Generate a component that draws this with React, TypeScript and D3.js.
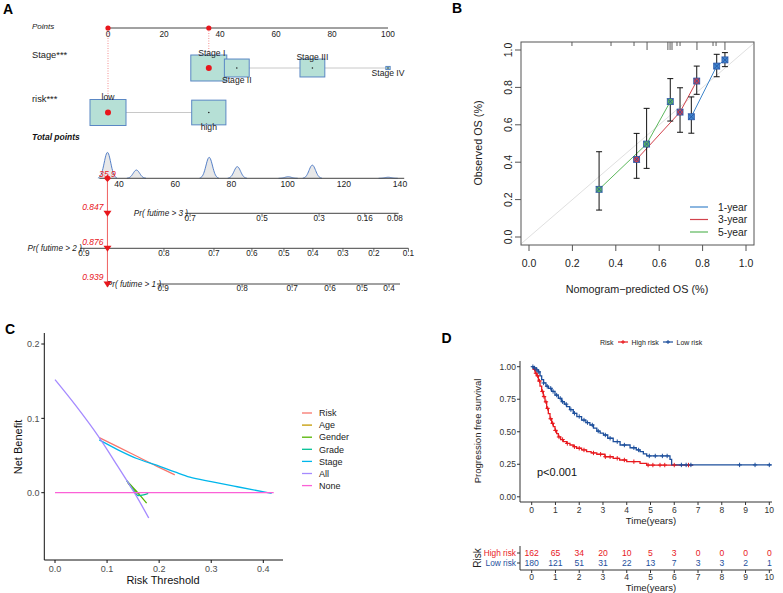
import React from 'react';
import * as d3 from 'd3';

const FONT = "'Liberation Sans', Arial, Helvetica, sans-serif";

// ---------- Panel A (nomogram) ----------
const pointsTicks = [0, 20, 40, 60, 80, 100];
const stageLevels = ['Stage I', 'Stage II', 'Stage III', 'Stage IV'];
const stagePoints = [36, 46, 73, 100];
const stageFreq = [1.0, 0.69, 0.69, 0.12];
const riskLevels = ['low', 'high'];
const riskPoints = [0, 36];
const riskFreq = [1.0, 0.95];
const totalTicks = [40, 60, 80, 100, 120, 140];
const humpCenters = [35.9, 46.2, 72.1, 82.1, 100.2, 108.8, 135.8];
const humpHeights = [1.0, 0.32, 0.81, 0.45, 0.06, 0.51, 0.04];
const patientTotal = 35.9;
const pr3Labels = ['0.7', '0.5', '0.3', '0.16', '0.08'];
const pr3Points = [65.3, 90.9, 111.2, 127.5, 138.2];
const pr2Labels = ['0.9', '0.8', '0.7', '0.6', '0.5', '0.4', '0.3', '0.2', '0.1'];
const pr2Points = [27.5, 56.0, 73.8, 87.3, 98.7, 109.0, 119.7, 130.7, 143.0];
const pr1Labels = ['0.9', '0.8', '0.7', '0.6', '0.5', '0.4'];
const pr1Points = [55.7, 83.8, 101.6, 115.1, 126.5, 136.1];
const prValues = ['0.847', '0.876', '0.939'];

// ---------- Panel B (calibration) ----------
const calibTicks = [0, 0.2, 0.4, 0.6, 0.8, 1.0];
const cal1X = [0.748, 0.865, 0.903];
const cal1Y = [0.643, 0.914, 0.947];
const cal1Lo = [0.555, 0.857, 0.911];
const cal1Hi = [0.749, 0.977, 0.986];
const cal3X = [0.496, 0.696, 0.773];
const cal3Y = [0.415, 0.668, 0.834];
const cal3Lo = [0.314, 0.56, 0.763];
const cal3Hi = [0.554, 0.798, 0.914];
const cal5X = [0.323, 0.542, 0.651];
const cal5Y = [0.255, 0.497, 0.724];
const cal5Lo = [0.144, 0.367, 0.62];
const cal5Hi = [0.456, 0.688, 0.847];
const calibNames = ['1-year', '3-year', '5-year'];
const calibColors = ['#3f86cc', '#d2424c', '#5cb85c'];
const rugX = [0.198, 0.378, 0.484, 0.544, 0.64, 0.65, 0.659, 0.682, 0.696, 0.774, 0.848, 0.862, 0.903];
const rugW = [1, 1, 1, 2, 2, 2, 2, 1, 1, 2, 1, 1, 2];

// ---------- Panel C (decision curve) ----------
const dcaNames = ['Risk', 'Age', 'Gender', 'Grade', 'Stage', 'All', 'None'];
const dcaColors = ['#F8766D', '#C49A00', '#53B400', '#00C094', '#00B6EB', '#A58AFF', '#FB61D7'];
const dcaRisk: [number, number][] = [[0.085, 0.074], [0.12, 0.062], [0.16, 0.048], [0.2, 0.034], [0.23, 0.024]];
const dcaAge: [number, number][] = [[0.14, 0.013], [0.155, 0.002], [0.162, -0.002]];
const dcaGender: [number, number][] = [[0.138, 0.016], [0.155, 0.003], [0.165, -0.005], [0.176, -0.014]];
const dcaGrade: [number, number][] = [[0.138, 0.016], [0.15, 0.004], [0.16, -0.004], [0.17, -0.003], [0.179, -0.001]];
const dcaStage: [number, number][] = [[0.085, 0.071], [0.12, 0.058], [0.157, 0.046], [0.195, 0.037], [0.23, 0.028], [0.259, 0.021], [0.3, 0.015], [0.35, 0.008], [0.416, -0.001]];
const dcaAll: [number, number][] = [[0, 0.152], [0.04, 0.117], [0.085, 0.074], [0.12, 0.036], [0.155, -0.003], [0.18, -0.034]];
const dcaNone: [number, number][] = [[0, 0], [0.42, 0]];
const dcaXTicks = [0, 0.1, 0.2, 0.3, 0.4];
const dcaYTicks = [0, 0.1, 0.2];

// ---------- Panel D (Kaplan-Meier) ----------
const highT = [0, 0.08, 0.15, 0.21, 0.28, 0.35, 0.42, 0.49, 0.56, 0.63, 0.7, 0.77, 0.84, 0.91, 0.98, 1.05, 1.12, 1.22, 1.33, 1.47, 1.61, 1.75, 1.89, 2.1, 2.31, 2.5, 2.74, 3.08, 3.43, 3.7, 4.0, 4.56, 4.84, 6.8];
const highS = [1, 0.98, 0.95, 0.93, 0.89, 0.85, 0.81, 0.77, 0.73, 0.68, 0.64, 0.6, 0.565, 0.54, 0.51, 0.485, 0.46, 0.44, 0.424, 0.41, 0.398, 0.385, 0.373, 0.36, 0.347, 0.337, 0.327, 0.308, 0.296, 0.283, 0.27, 0.257, 0.244, 0.244];
const lowT = [0, 0.1, 0.2, 0.28, 0.35, 0.42, 0.5, 0.6, 0.7, 0.84, 0.98, 1.12, 1.26, 1.37, 1.47, 1.6, 1.75, 1.9, 2.1, 2.28, 2.45, 2.6, 2.74, 2.88, 3.02, 3.2, 3.43, 3.72, 4.14, 4.4, 4.56, 4.7, 4.84, 5.82, 5.89, 10.1];
const lowS = [1, 0.99, 0.975, 0.96, 0.93, 0.9, 0.875, 0.85, 0.834, 0.81, 0.782, 0.757, 0.731, 0.712, 0.693, 0.67, 0.642, 0.617, 0.59, 0.57, 0.552, 0.528, 0.505, 0.49, 0.475, 0.45, 0.424, 0.398, 0.377, 0.36, 0.347, 0.33, 0.314, 0.288, 0.245, 0.245];
const highCensor = [0.12, 0.18, 0.25, 0.33, 0.45, 0.52, 0.6, 0.67, 0.8, 0.88, 1.0, 1.15, 1.3, 1.5, 1.8, 2.0, 2.2, 2.6, 2.9, 3.1, 3.3, 3.6, 3.9, 4.3, 4.9, 5.1, 5.4, 5.6, 6.0, 6.6];
const lowCensor = [0.05, 0.12, 0.22, 0.3, 0.5, 0.65, 0.8, 0.9, 1.05, 1.2, 1.3, 1.45, 1.65, 1.8, 2.0, 2.2, 2.35, 2.55, 2.8, 3.1, 3.3, 3.6, 3.9, 4.3, 4.5, 4.95, 5.2, 5.5, 5.7, 6.3, 6.5, 6.7, 8.75, 9.4, 10.0];
const timeTicks = [0, 1, 2, 3, 4, 5, 6, 7, 8, 9, 10];
const survTicks = [0, 0.25, 0.5, 0.75, 1.0];
const atRiskHigh = [162, 65, 34, 20, 10, 5, 3, 0, 0, 0, 0];
const atRiskLow = [180, 121, 51, 31, 22, 13, 7, 3, 3, 2, 1];
const kmRed = '#E8191E';
const kmBlue = '#1D4F9C';

function stepAt(ts: number[], ss: number[], t: number) {
  let s = ss[0];
  for (let i = 0; i < ts.length; i++) if (ts[i] <= t) s = ss[i];
  return s;
}

export default function App() {
  // ----- Panel A -----
  const ptsX = d3.scaleLinear().domain([0, 100]).range([108, 388]);
  const tpX = d3.scaleLinear().domain([40, 140]).range([119, 400]);
  const boxFill = '#b6e0d6';
  const boxStroke = '#5a87c4';
  const stageY = 68;
  const riskY = 112.5;
  const totalY = 178.3;
  const humpScale = d3.scaleLinear().domain([0, 1]).range([totalY, totalY - 26]);
  const humpPaths = humpCenters.map((c, i) => {
    const pts: [number, number][] = d3.range(c - 3.4, c + 3.41, 0.2).map((t) => [t, humpHeights[i] * Math.exp(-0.5 * ((t - c) / 1.15) ** 2)]);
    const area = d3.area<[number, number]>().x((d) => tpX(d[0])).y0(totalY).y1((d) => humpScale(d[1])).curve(d3.curveBasis)(pts) || '';
    const line = d3.line<[number, number]>().x((d) => tpX(d[0])).y((d) => humpScale(d[1])).curve(d3.curveBasis)(pts) || '';
    return { area, line };
  });
  const prRows = [
    { name: 'Pr( futime > 3 )', labels: pr3Labels, pts: pr3Points, y: 213.3, start: 63.5, end: 139.5 },
    { name: 'Pr( futime > 2 )', labels: pr2Labels, pts: pr2Points, y: 248.3, start: 26.1, end: 143 },
    { name: 'Pr( futime > 1 )', labels: pr1Labels, pts: pr1Points, y: 284, start: 53.5, end: 140 },
  ];
  const px = tpX(patientTotal);

  const box = (cx: number, cy: number, f: number, key: string) => {
    const w = 36 * f, h = 26 * f;
    return <rect key={key} x={cx - w / 2} y={cy - h / 2} width={w} height={h} fill={boxFill} stroke={boxStroke} strokeWidth={1} />;
  };

  // ----- Panel B -----
  const bx = d3.scaleLinear().domain([0, 1]).range([529, 746]);
  const by = d3.scaleLinear().domain([0, 1]).range([237, 50]);
  const calSeries = [
    { x: cal1X, y: cal1Y, lo: cal1Lo, hi: cal1Hi },
    { x: cal3X, y: cal3Y, lo: cal3Lo, hi: cal3Hi },
    { x: cal5X, y: cal5Y, lo: cal5Lo, hi: cal5Hi },
  ];

  // ----- Panel C -----
  const cx = d3.scaleLinear().domain([0, 0.4]).range([55, 263.3]);
  const cy = d3.scaleLinear().domain([0, 0.2]).range([492.7, 344]);
  const dcaData = [dcaRisk, dcaAge, dcaGender, dcaGrade, dcaStage, dcaAll, dcaNone];
  const cLine = d3.line<[number, number]>().x((d) => cx(d[0])).y((d) => cy(d[1])).curve(d3.curveMonotoneX);

  // ----- Panel D -----
  const dx = d3.scaleLinear().domain([0, 10]).range([531.7, 769.3]);
  const dy = d3.scaleLinear().domain([0, 1]).range([496.8, 366.7]);
  const highPath = d3.line<number>().x((_, i) => dx(highT[i])).y((_, i) => dy(highS[i])).curve(d3.curveStepAfter)(highT) || '';
  const lowPath = d3.line<number>().x((_, i) => dx(lowT[i])).y((_, i) => dy(lowS[i])).curve(d3.curveStepAfter)(lowT) || '';

  const cross = (x: number, y: number, color: string, key: string, r = 2.6) => (
    <g key={key} stroke={color} strokeWidth={1}>
      <line x1={x - r} x2={x + r} y1={y} y2={y} />
      <line x1={x} x2={x} y1={y - r} y2={y + r} />
    </g>
  );

  return (
    <svg width={783} height={593} style={{ position: 'absolute', left: 0, top: 0, background: '#fff' }} fontFamily={FONT}>
      <rect width={783} height={593} fill="#fff" />
      {/* Panel letters */}
      <g fontWeight="bold" fontSize={14} fill="#000">
        <text x={3} y={14}>A</text>
        <text x={452} y={13}>B</text>
        <text x={5} y={333.5}>C</text>
        <text x={441.5} y={343}>D</text>
      </g>

      {/* ================= Panel A ================= */}
      <g>
        <text x={32} y={29} fontSize={8} fontStyle="italic" fill="#222">Points</text>
        <line x1={ptsX(0)} x2={ptsX(100)} y1={28} y2={28} stroke="#444" strokeWidth={1} />
        {pointsTicks.map((t) => (
          <text key={t} x={ptsX(t)} y={36.5} fontSize={8.3} textAnchor="middle" fill="#222">{t}</text>
        ))}
        <text x={32} y={57.5} fontSize={9.3} fill="#222">Stage***</text>
        <text x={32} y={101.5} fontSize={9.3} fill="#222">risk***</text>
        <text x={32} y={140} fontSize={8.5} fontStyle="italic" fontWeight="bold" fill="#111">Total points</text>

        {/* red dotted guides */}
        <line x1={ptsX(riskPoints[0])} x2={ptsX(riskPoints[0])} y1={28} y2={riskY} stroke="#f07070" strokeWidth={0.8} strokeDasharray="1,1.5" />
        <line x1={ptsX(stagePoints[0])} x2={ptsX(stagePoints[0])} y1={28} y2={stageY} stroke="#f07070" strokeWidth={0.8} strokeDasharray="1,1.5" />

        {/* stage row */}
        <line x1={ptsX(stagePoints[0])} x2={ptsX(stagePoints[3])} y1={stageY} y2={stageY} stroke="#c8c8c8" strokeWidth={1} />
        {stagePoints.map((p, i) => box(ptsX(p), stageY, stageFreq[i], 's' + i))}
        {stagePoints.map((p, i) => {
          const h = 26 * stageFreq[i];
          const y = i % 2 === 0 ? stageY - h / 2 + 0.5 : stageY + h / 2 + 6.3;
          return <text key={'sl' + i} x={ptsX(p) + (i === 0 ? 3 : 0)} y={y} fontSize={8.6} textAnchor="middle" fill="#222">{stageLevels[i]}</text>;
        })}
        {stagePoints.map((p, i) => (i === 0 ? null : <circle key={'sd' + i} cx={ptsX(p)} cy={stageY} r={0.8} fill="#222" />))}

        {/* risk row */}
        <line x1={ptsX(riskPoints[0])} x2={ptsX(riskPoints[1])} y1={riskY} y2={riskY} stroke="#c8c8c8" strokeWidth={1} />
        {riskPoints.map((p, i) => box(ptsX(p), riskY, riskFreq[i], 'r' + i))}
        {riskPoints.map((p, i) => {
          const h = 26 * riskFreq[i];
          const y = i % 2 === 0 ? riskY - h / 2 + 0.8 : riskY + h / 2 + 5.5;
          return <text key={'rl' + i} x={ptsX(p)} y={y} fontSize={8.6} textAnchor="middle" fill="#222">{riskLevels[i]}</text>;
        })}
        <circle cx={ptsX(riskPoints[1])} cy={riskY} r={0.8} fill="#222" />

        {/* selected points */}
        <circle cx={ptsX(riskPoints[0])} cy={28} r={2.6} fill="#e8161c" />
        <circle cx={ptsX(stagePoints[0])} cy={28} r={2.6} fill="#e8161c" />
        <circle cx={ptsX(stagePoints[0])} cy={stageY} r={3} fill="#e8161c" />
        <circle cx={ptsX(riskPoints[0])} cy={riskY} r={3} fill="#e8161c" />

        {/* total points density */}
        {humpPaths.map((h, i) => (
          <g key={'h' + i}>
            <path d={h.area} fill="#e8e8e8" />
            <path d={h.line} fill="none" stroke="#5580c8" strokeWidth={1} />
          </g>
        ))}
        <line x1={tpX(33)} x2={tpX(141.5)} y1={totalY} y2={totalY} stroke="#444" strokeWidth={1} />
        {totalTicks.map((t) => (
          <text key={t} x={tpX(t)} y={186.5} fontSize={8.6} textAnchor="middle" fill="#222">{t}</text>
        ))}

        {/* probability axes */}
        {prRows.map((r, k) => (
          <g key={'pr' + k}>
            <line x1={tpX(r.start)} x2={tpX(r.end)} y1={r.y} y2={r.y} stroke="#444" strokeWidth={1} />
            <text x={tpX(r.pts[0]) - 2} y={r.y + 3} fontSize={8.2} fontStyle="italic" textAnchor="end" fill="#222">{r.name}</text>
            {r.pts.map((p, i) => (
              <g key={i}>
                <line x1={tpX(p)} x2={tpX(p)} y1={r.y} y2={r.y + 3.5} stroke="#444" strokeWidth={0.8} />
                <text x={tpX(p)} y={r.y + 7.2} fontSize={8.2} textAnchor="middle" fill="#222">{r.labels[i]}</text>
              </g>
            ))}
          </g>
        ))}

        {/* red patient path */}
        <line x1={px} x2={px} y1={totalY} y2={283} stroke="#f06a6a" strokeWidth={1.1} />
        <path d={`M${px},${totalY - 3.6}L${px + 3.6},${totalY}L${px},${totalY + 3.6}L${px - 3.6},${totalY}Z`} fill="#e8161c" />
        <text x={px} y={177} fontSize={8.6} fontStyle="italic" textAnchor="middle" fill="#e8161c">{patientTotal}</text>
        {prRows.map((r, k) => (
          <g key={'tri' + k}>
            <path d={`M${px - 4},${r.y - 2.5}L${px + 4},${r.y - 2.5}L${px},${r.y + 3.5}Z`} fill="#e8161c" />
            <text x={103.5} y={r.y - 3.8} fontSize={8.5} fontStyle="italic" textAnchor="end" fill="#e8161c">{prValues[k]}</text>
          </g>
        ))}
      </g>

      {/* ================= Panel B ================= */}
      <g>
        <defs>
          <clipPath id="clipB"><rect x={521} y={42} width={233} height={203} /></clipPath>
        </defs>
        <line x1={bx(-0.05)} y1={by(-0.05)} x2={bx(1.05)} y2={by(1.05)} stroke="#e0e0e0" strokeWidth={1} clipPath="url(#clipB)" />
        {rugX.map((r, i) => (
          <line key={'rug' + i} x1={bx(r)} x2={bx(r)} y1={42} y2={42 + 4 * rugW[i]} stroke="#333" strokeWidth={0.8} />
        ))}
        {calSeries.map((s, k) => (
          <path key={'cl' + k} d={d3.line<number>().x((_, i) => bx(s.x[i])).y((_, i) => by(s.y[i]))(s.x) || ''} fill="none" stroke={calibColors[k]} strokeWidth={1} />
        ))}
        {calSeries.map((s, k) => (
          <g key={'ce' + k} stroke="#111" strokeWidth={1}>
            {s.x.map((x, i) => (
              <g key={i}>
                <line x1={bx(x)} x2={bx(x)} y1={by(s.lo[i])} y2={by(s.hi[i])} />
                <line x1={bx(x) - 3} x2={bx(x) + 3} y1={by(s.lo[i])} y2={by(s.lo[i])} />
                <line x1={bx(x) - 3} x2={bx(x) + 3} y1={by(s.hi[i])} y2={by(s.hi[i])} />
              </g>
            ))}
          </g>
        ))}
        {calSeries.map((s, k) => (
          <g key={'cm' + k}>
            {s.x.map((x, i) => (
              <g key={i}>
                <rect x={bx(x) - 3} y={by(s.y[i]) - 3} width={6} height={6} fill={calibColors[k]} stroke="#2a56a8" strokeWidth={0.8} />
                <g stroke="#2a56a8" strokeWidth={0.9}>
                  <line x1={bx(x) - 3} x2={bx(x) + 3} y1={by(s.y[i]) - 3} y2={by(s.y[i]) + 3} />
                  <line x1={bx(x) - 3} x2={bx(x) + 3} y1={by(s.y[i]) + 3} y2={by(s.y[i]) - 3} />
                </g>
              </g>
            ))}
          </g>
        ))}
        <rect x={521} y={42} width={233} height={203} fill="none" stroke="#555" strokeWidth={1} />
        {calibTicks.map((t) => (
          <g key={'bxt' + t}>
            <line x1={bx(t)} x2={bx(t)} y1={245} y2={251} stroke="#555" />
            <text x={bx(t)} y={267} fontSize={10.5} textAnchor="middle" fill="#222">{t.toFixed(1)}</text>
            <line x1={515} x2={521} y1={by(t)} y2={by(t)} stroke="#555" />
            <text transform={`translate(511.5,${by(t)}) rotate(-90)`} fontSize={10.5} textAnchor="middle" fill="#222">{t.toFixed(1)}</text>
          </g>
        ))}
        <text x={637} y={293} fontSize={10.8} textAnchor="middle" fill="#222">Nomogram−predicted OS (%)</text>
        <text transform="translate(482,143) rotate(-90)" fontSize={10.8} textAnchor="middle" fill="#222">Observed OS (%)</text>
        {calibNames.map((n, k) => (
          <g key={'bl' + k}>
            <line x1={690} x2={708} y1={207 + k * 12.5} y2={207 + k * 12.5} stroke={calibColors[k]} strokeWidth={1.2} />
            <text x={718} y={210.7 + k * 12.5} fontSize={10.3} fill="#222">{n}</text>
          </g>
        ))}
      </g>

      {/* ================= Panel C ================= */}
      <g>
        <line x1={44.3} x2={44.3} y1={333} y2={560} stroke="#111" strokeWidth={1} />
        <line x1={44.3} x2={283} y1={560} y2={560} stroke="#111" strokeWidth={1} />
        {dcaXTicks.map((t) => (
          <g key={'cxt' + t}>
            <line x1={cx(t)} x2={cx(t)} y1={560} y2={563} stroke="#111" />
            <text x={cx(t)} y={571.5} fontSize={9} textAnchor="middle" fill="#4d4d4d">{t.toFixed(1)}</text>
          </g>
        ))}
        {dcaYTicks.map((t) => (
          <g key={'cyt' + t}>
            <line x1={41.3} x2={44.3} y1={cy(t)} y2={cy(t)} stroke="#111" />
            <text x={39.5} y={cy(t) + 3.2} fontSize={9} textAnchor="end" fill="#4d4d4d">{t.toFixed(1)}</text>
          </g>
        ))}
        {dcaData.map((d, k) => (
          <path key={'dca' + k} d={cLine(d) || ''} fill="none" stroke={dcaColors[k]} strokeWidth={1.3} />
        ))}
        <text x={163} y={584} fontSize={11} textAnchor="middle" fill="#111">Risk Threshold</text>
        <text transform="translate(22,447) rotate(-90)" fontSize={11} textAnchor="middle" fill="#111">Net Benefit</text>
        {dcaNames.map((n, k) => (
          <g key={'cl' + k}>
            <line x1={302} x2={312} y1={413 + k * 12.1} y2={413 + k * 12.1} stroke={dcaColors[k]} strokeWidth={1.3} />
            <text x={319} y={416.2 + k * 12.1} fontSize={9} fill="#222">{n}</text>
          </g>
        ))}
      </g>

      {/* ================= Panel D ================= */}
      <g>
        {/* legend */}
        <text x={600} y={344.5} fontSize={7} fill="#222">Risk</text>
        <line x1={618} x2={628} y1={342} y2={342} stroke={kmRed} strokeWidth={1.2} />
        {cross(623, 342, kmRed, 'lgr', 2)}
        <text x={631.5} y={344.5} fontSize={7} fill="#222">High risk</text>
        <line x1={663} x2={673} y1={342} y2={342} stroke={kmBlue} strokeWidth={1.2} />
        {cross(668, 342, kmBlue, 'lgb', 2)}
        <text x={676.5} y={344.5} fontSize={7} fill="#222">Low risk</text>

        {/* axes */}
        <line x1={520} x2={520} y1={361} y2={502} stroke="#333" strokeWidth={1} />
        <line x1={520} x2={772} y1={502} y2={502} stroke="#333" strokeWidth={1} />
        {survTicks.map((t) => (
          <g key={'dyt' + t}>
            <line x1={517} x2={520} y1={dy(t)} y2={dy(t)} stroke="#333" />
            <text x={516} y={dy(t) + 3} fontSize={8.5} textAnchor="end" fill="#333">{t.toFixed(2)}</text>
          </g>
        ))}
        {timeTicks.map((t) => (
          <g key={'dxt' + t}>
            <line x1={dx(t)} x2={dx(t)} y1={502} y2={505} stroke="#333" />
            <text x={dx(t)} y={512.5} fontSize={8.5} textAnchor="middle" fill="#333">{t}</text>
          </g>
        ))}
        <text x={651} y={524} fontSize={9.5} textAnchor="middle" fill="#222">Time(years)</text>
        <text transform="translate(481,431) rotate(-90)" fontSize={9.5} textAnchor="middle" fill="#222">Progression free survival</text>

        {/* curves */}
        <path d={highPath} fill="none" stroke={kmRed} strokeWidth={1.3} />
        <path d={lowPath} fill="none" stroke={kmBlue} strokeWidth={1.3} />
        {highCensor.map((t, i) => cross(dx(t), dy(stepAt(highT, highS, t)), kmRed, 'hc' + i, 2.2))}
        {lowCensor.map((t, i) => cross(dx(t), dy(stepAt(lowT, lowS, t)), kmBlue, 'lc' + i, 2.2))}
        <text x={537} y={476} fontSize={11} fill="#111">p&lt;0.001</text>

        {/* risk table */}
        <line x1={520} x2={520} y1={546} y2={570} stroke="#333" strokeWidth={1} />
        <line x1={520} x2={772} y1={570} y2={570} stroke="#333" strokeWidth={1} />
        <line x1={517} x2={520} y1={553} y2={553} stroke="#333" />
        <line x1={517} x2={520} y1={563} y2={563} stroke="#333" />
        <text x={516} y={556} fontSize={8.3} textAnchor="end" fill={kmRed}>High risk</text>
        <text x={516} y={566} fontSize={8.3} textAnchor="end" fill={kmBlue}>Low risk</text>
        <text transform="translate(480.5,558) rotate(-90)" fontSize={10} textAnchor="middle" fill="#222">Risk</text>
        {timeTicks.map((t, i) => (
          <g key={'rt' + t}>
            <text x={dx(t)} y={556.2} fontSize={8.6} textAnchor="middle" fill={kmRed}>{atRiskHigh[i]}</text>
            <text x={dx(t)} y={566.2} fontSize={8.6} textAnchor="middle" fill={kmBlue}>{atRiskLow[i]}</text>
            <line x1={dx(t)} x2={dx(t)} y1={570} y2={573} stroke="#333" />
            <text x={dx(t)} y={579.5} fontSize={8.5} textAnchor="middle" fill="#333">{t}</text>
          </g>
        ))}
        <text x={651} y={591} fontSize={9.5} textAnchor="middle" fill="#222">Time(years)</text>
      </g>
    </svg>
  );
}
